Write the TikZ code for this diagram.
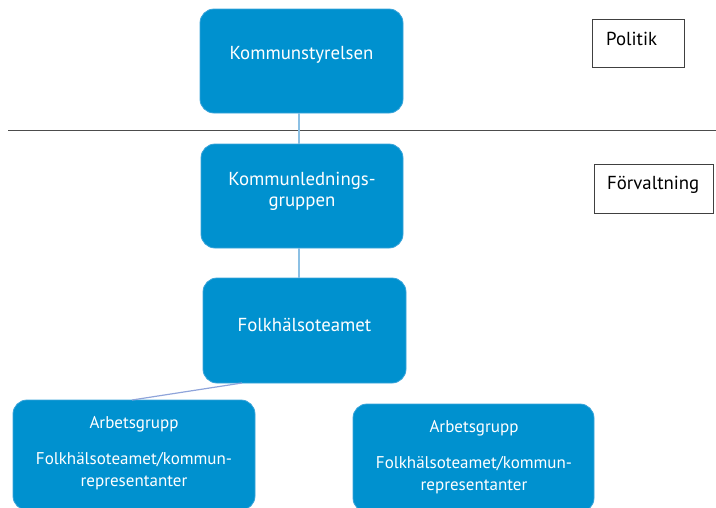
\documentclass[tikz,border=0pt]{standalone}
\usepackage{fontspec}
\setmainfont{PT Sans}
\definecolor{boxblue}{HTML}{0091CF}
\definecolor{boxedge}{HTML}{3AA4DA}
\definecolor{conn}{HTML}{8CC0E4}
\definecolor{conn2}{HTML}{8FA4DA}
\begin{document}
\begin{tikzpicture}[x=1pt,y=-1pt,
  orgbox/.style={draw=boxedge,line width=0.8pt,fill=boxblue,rounded corners=14pt},
  bigtext/.style={text=white,font=\fontsize{18.8}{21}\selectfont,inner sep=0pt},
  smalltext/.style={text=white,font=\fontsize{17}{22}\selectfont,inner sep=0pt},
  labelbox/.style={draw=black!75,line width=0.6pt},
  labeltext/.style={anchor=west,font=\fontsize{18.8}{21}\selectfont,inner sep=0pt},
  connector/.style={conn,line width=1.2pt}]
\useasboundingbox (0,0) rectangle (716,507);
% divider
\draw[black!70,line width=1pt] (8,130) -- (716,130);
% boxes
\draw[orgbox] (200,9) rectangle (403,113);
\node[bigtext] (ks) at (301.5,55) {Kommunstyrelsen};
\coordinate (ksb) at (299,113);
\draw[orgbox] (201,144) rectangle (403,248);
\node[bigtext,align=center] (klg) at (302,191) {Kommunlednings-\\gruppen};
\coordinate (klgt) at (299,144);
\coordinate (klgb) at (299,248);
\draw[orgbox] (203,278) rectangle (406,383);
\node[bigtext] (fht) at (304.5,325) {Folkhälsoteamet};
\coordinate (fhtt) at (299,278);
\coordinate (fhtb) at (242,383);
\draw[orgbox] (13,400) rectangle (255,510);
\node[smalltext] (a1) at (134,424) {Arbetsgrupp};
\node[smalltext,align=center] (a1b) at (134,471) {Folkhälsoteamet/kommun-\\representanter};
\coordinate (a1t) at (132,400);
\draw[orgbox] (353,404) rectangle (594,512);
\node[smalltext] (a2) at (474,428) {Arbetsgrupp};
\node[smalltext,align=center] (a2b) at (474,475) {Folkhälsoteamet/kommun-\\representanter};
% connectors
\draw[connector] (ksb) -- (klgt);
\draw[connector] (klgb) -- (fhtt);
\draw[conn2,line width=1.2pt] (fhtb) -- (a1t);
% label boxes
\draw[labelbox] (592,19) rectangle (684,67);
\node[labeltext] (pol) at (606,39) {Politik};
\draw[labelbox] (594,164) rectangle (713,213);
\node[labeltext] (forv) at (607,185) {Förvaltning};
\end{tikzpicture}
\end{document}
